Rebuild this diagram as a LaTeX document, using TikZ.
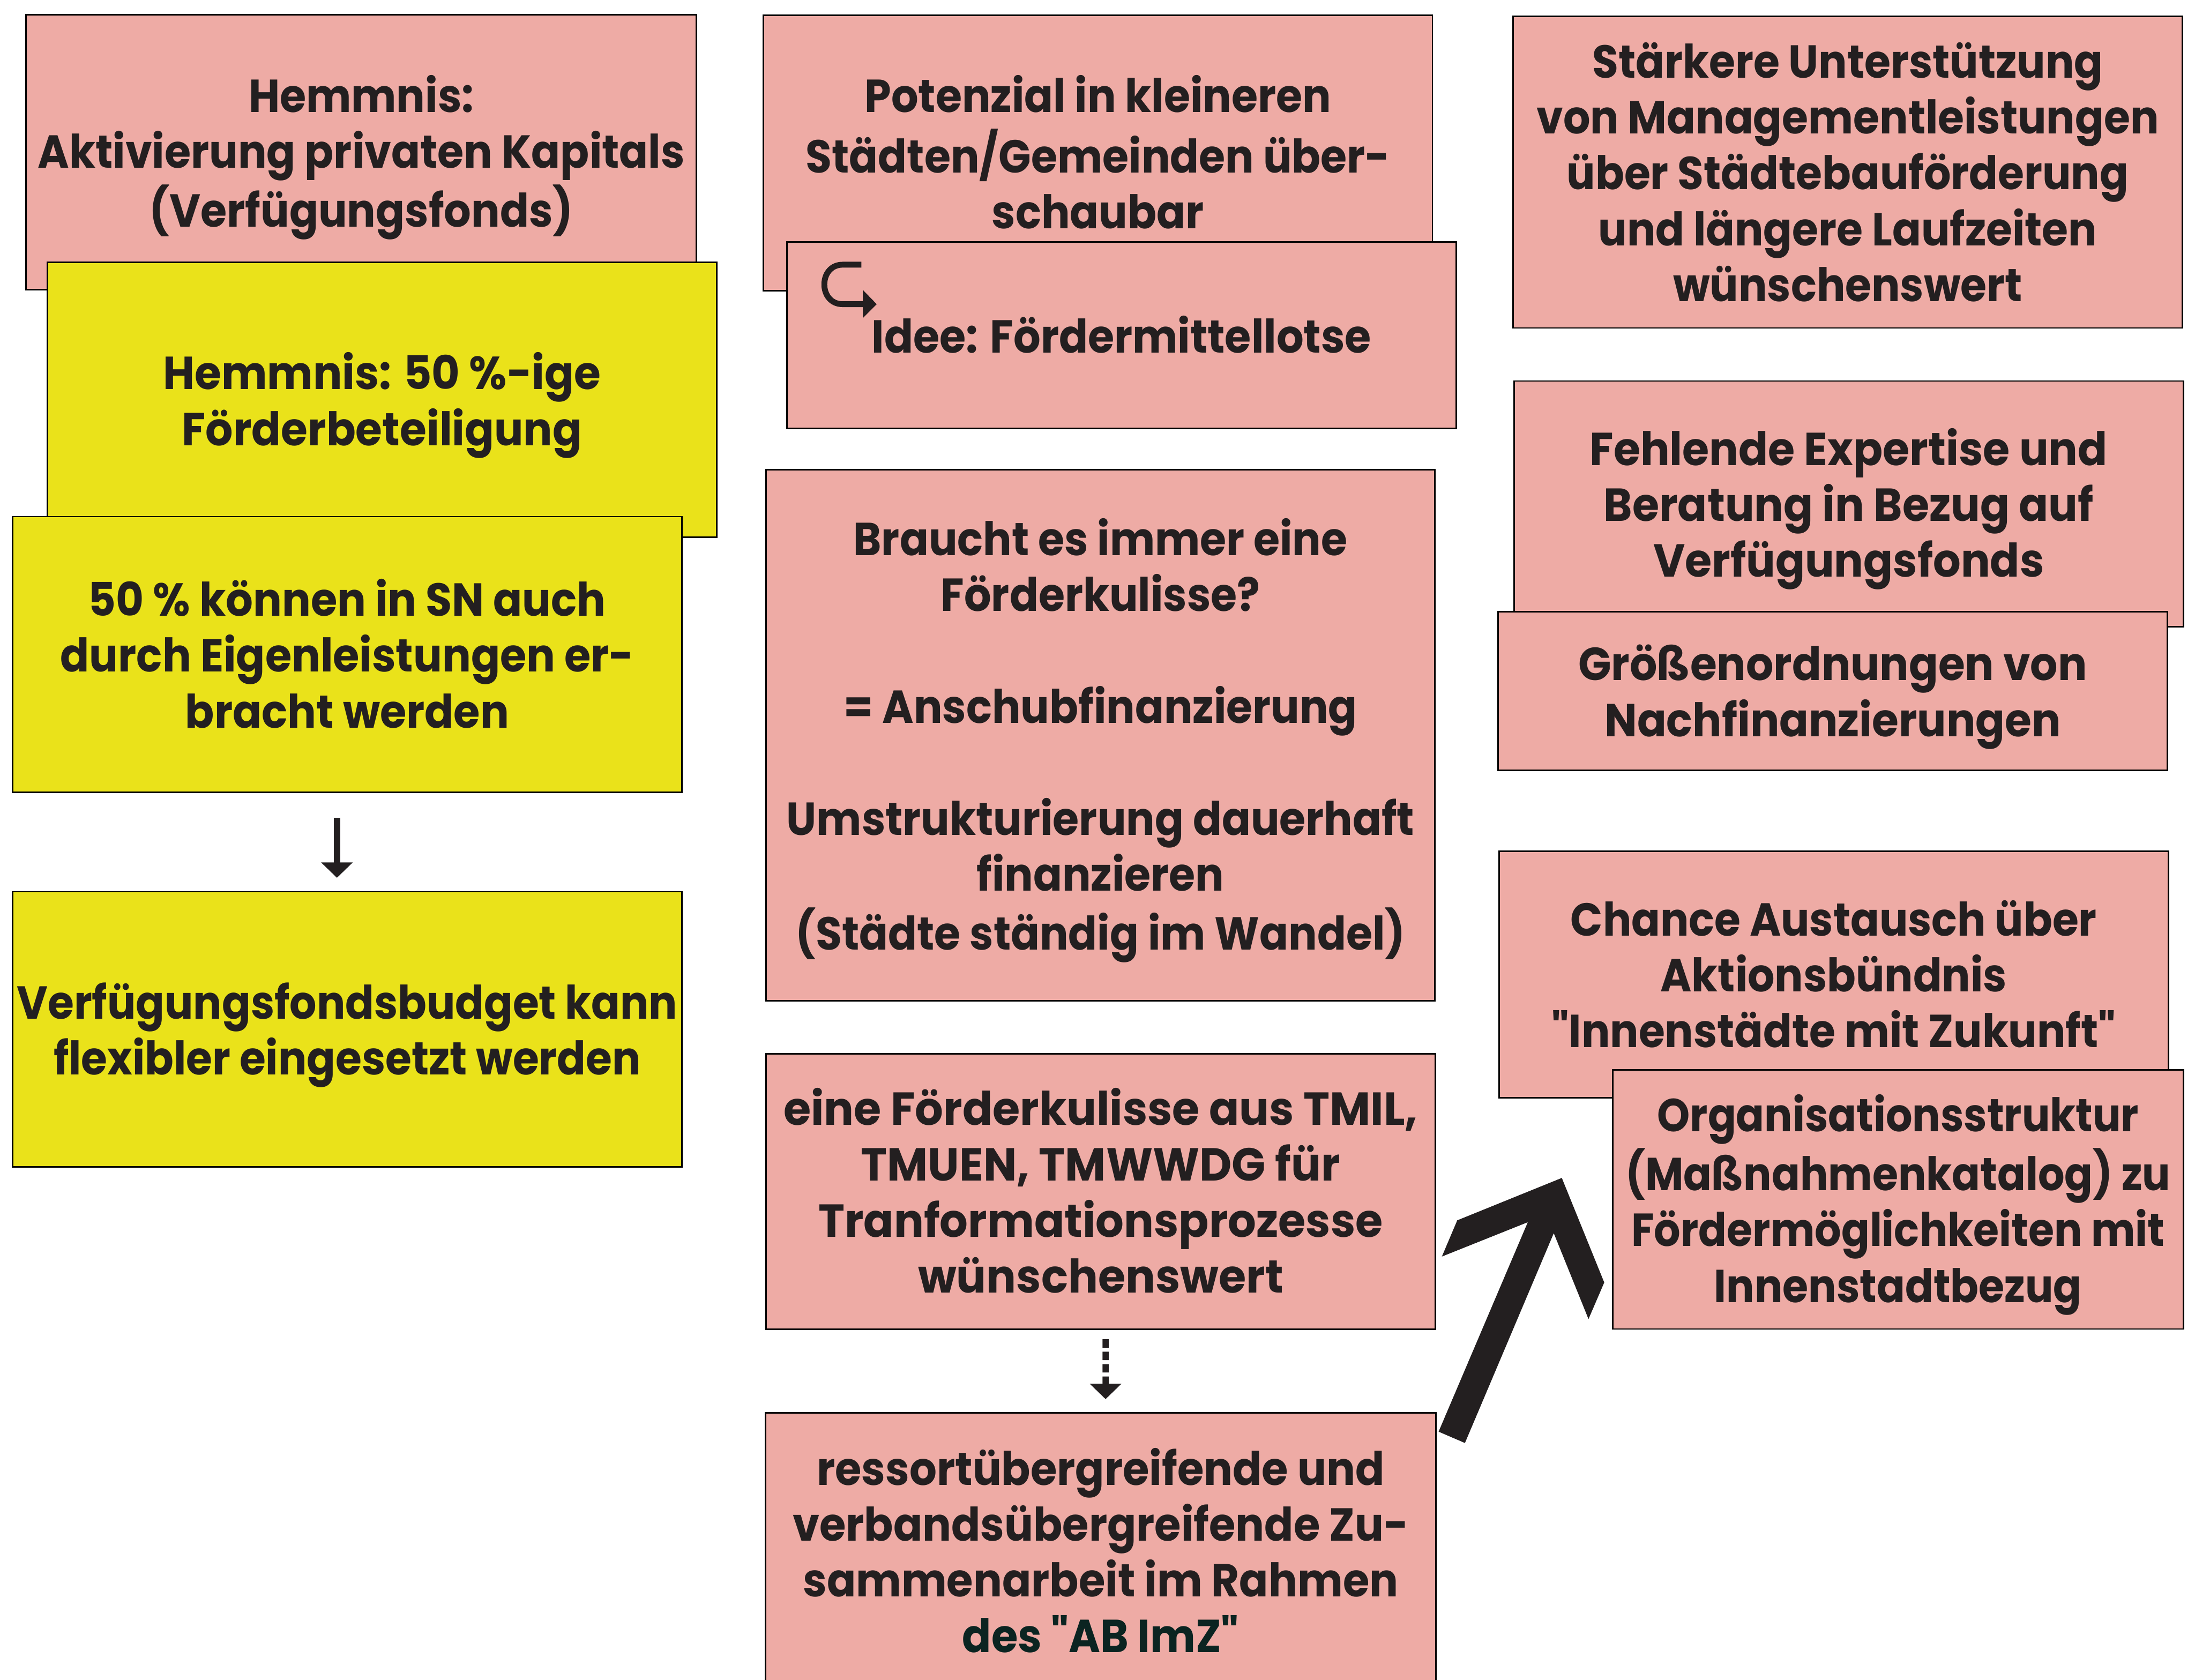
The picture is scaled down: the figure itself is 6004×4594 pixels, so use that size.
\documentclass[tikz,border=0pt]{standalone}
\usepackage{fontspec}
\setmainfont{Poppins}[Ligatures=TeXOff]
\usepackage{graphicx}
\usetikzlibrary{arrows.meta}
\definecolor{pinkc}{RGB}{238,171,165}
\definecolor{yelc}{RGB}{234,226,26}
\definecolor{txt}{HTML}{231F20}
\definecolor{txtg}{HTML}{0B2421}
\newsavebox\tbox
\newcommand\fitw[2]{\sbox\tbox{\begin{tabular}{@{}c@{}}#2\end{tabular}}\pgfmathsetmacro\rat{(#1)/(\the\wd\tbox)}\raisebox{0pt}[\dimexpr\height+3.4mm\relax][\depth]{\scalebox{\rat}[1]{\usebox\tbox}}}
\tikzset{
  card/.style={draw=black, line width=1.2pt, inner sep=0pt, anchor=north west, text=txt,
    font=\bfseries\fontsize{36}{43.5}\selectfont},
  pinkcard/.style={card, fill=pinkc},
  yelcard/.style={card, fill=yelc},
  bigtip/.style={-{Triangle[width=8.4mm,length=4.2mm]}},
}
\begin{document}
\begin{tikzpicture}[x=0.1mm,y=-0.1mm]
\useasboundingbox (0,0) rectangle (6004,4594);
\clip (0,0) rectangle (6004,4594);
\fill[white] (0,0) rectangle (6004,4594);

% left column
\node[pinkcard, minimum width=183.4mm, minimum height=75.2mm] (A) at (69,38)
  {\fitw{177.0mm}{Hemmnis:\\Aktivierung privaten Kapitals\\(Verfügungsfonds)}};
\node[yelcard, minimum width=183.0mm, minimum height=75.2mm] (B) at (128,716)
  {\fitw{119.7mm}{Hemmnis: 50 \%-ige\\Förderbeteiligung}};
\node[yelcard, minimum width=183.1mm, minimum height=75.4mm] (C) at (32,1411)
  {\fitw{156.9mm}{50 \% können in SN auch\\durch Eigenleistungen er-\\bracht werden}};
\node[yelcard, minimum width=183.1mm, minimum height=75.3mm] (D) at (32,2437)
  {\fitw{180.7mm}{Verfügungsfondsbudget kann\\flexibler eingesetzt werden}};

% middle column
\node[pinkcard, minimum width=183.0mm, minimum height=75.3mm] (E) at (2086,40)
  {\fitw{159.8mm}{Potenzial in kleineren\\Städten/Gemeinden über-\\schaubar}};
\node[pinkcard, minimum width=183.1mm, minimum height=51.0mm] (F) at (2150,660)
  {\fitw{136.6mm}{Idee: Fördermittellotse}};
\node[pinkcard, minimum width=183.0mm, minimum height=145.2mm] (G) at (2093,1283)
  {\fitw{171.7mm}{Braucht es immer eine\\Förderkulisse?\\ \\= Anschubfinanzierung\\ \\Umstrukturierung dauerhaft\\finanzieren\\(Städte ständig im Wandel)}};
\node[pinkcard, minimum width=183.1mm, minimum height=75.4mm] (H) at (2093,2880)
  {\fitw{173.5mm}{eine Förderkulisse aus TMIL,\\TMUEN, TMWWDG für\\Tranformationsprozesse\\wünschenswert}};
\node[pinkcard, minimum width=183.3mm, minimum height=75.7mm] (I) at (2092,3863)
  {\fitw{168.5mm}{ressortübergreifende und\\verbandsübergreifende Zu-\\sammenarbeit im Rahmen\\{\color{txtg}des "AB ImZ"}}};

% right column
\node[pinkcard, minimum width=183.0mm, minimum height=85.2mm] (J) at (4137,43)
  {\fitw{170.2mm}{Stärkere Unterstützung\\von Managementleistungen\\über Städtebauförderung\\und längere Laufzeiten\\wünschenswert}};
\node[pinkcard, minimum width=183.1mm, minimum height=67.2mm] (K) at (4139,1040)
  {\fitw{141.6mm}{Fehlende Expertise und\\Beratung in Bezug auf\\Verfügungsfonds}};
\node[pinkcard, minimum width=183.0mm, minimum height=43.4mm] (L) at (4096,1671)
  {\fitw{139.2mm}{Größenordnungen von\\Nachfinanzierungen}};
\node[pinkcard, minimum width=183.1mm, minimum height=67.4mm] (M) at (4098,2326)
  {\fitw{154.3mm}{Chance Austausch über\\Aktionsbündnis\\"Innenstädte mit Zukunft"}};
\node[pinkcard, minimum width=156.1mm, minimum height=70.8mm] (N) at (4409,2925)
  {\fitw{149.1mm}{Organisationsstruktur\\(Maßnahmenkatalog) zu\\Fördermöglichkeiten mit\\Innenstadtbezug}};

% hook icon in F
\draw[txt, line width=1.6mm] (2356,724) -- (2305,724)
  .. controls (2238,724) and (2238,832) .. (2305,832) -- (2362,832);
\fill[txt] (2360,793) -- (2398,832) -- (2360,870) -- cycle;

% connectors
\draw[txt, line width=1.7mm, bigtip, shorten <=6.7mm, shorten >=3.6mm]
  ([xshift=-2.8mm]C.south) -- ([xshift=-2.8mm]D.north);
\draw[txt, line width=1.7mm, bigtip, dash pattern=on 2.3mm off 1.1mm, shorten <=2.5mm, shorten >=3.6mm]
  ([xshift=1.35mm]H.south) -- ([xshift=1.35mm]I.north);

% big arrow
\fill[txt] (3935,3916) -- (4179,3343) -- (3944,3437) -- (3986,3338) -- (4272,3222)
  -- (4388,3508) -- (4345,3608) -- (4250,3373) -- (4007,3947) -- cycle;
\end{tikzpicture}
\end{document}
